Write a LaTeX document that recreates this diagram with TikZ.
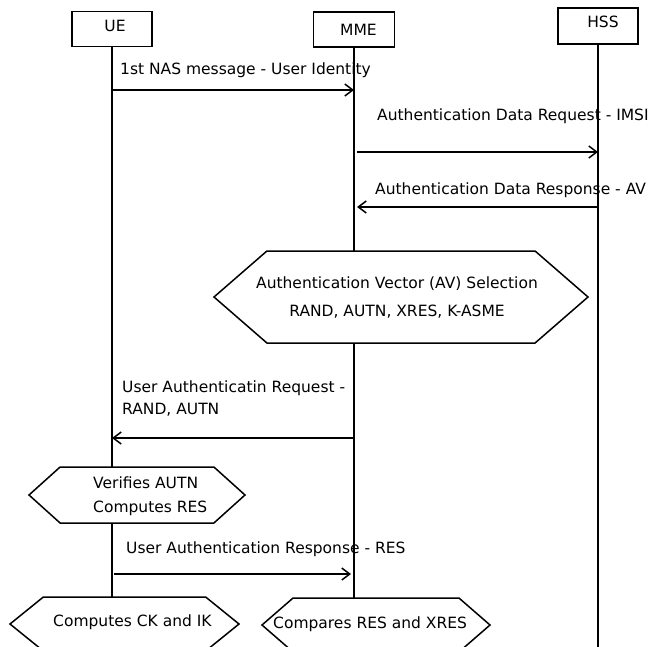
\documentclass[tikz,border=0pt]{standalone}
\usepackage{fontspec}
\setmainfont{DejaVu Sans}
\usetikzlibrary{shapes.symbols,arrows.meta}
\tikzset{
  lw/.style={line width=1.5pt},
  actor/.style={draw, lw, minimum width=80pt, minimum height=35pt, inner sep=0pt,
    font=\fontsize{15.5}{18}\selectfont},
  hexa/.style={draw, lw, shape=signal, signal to=east and west, inner sep=0pt, outer sep=0pt},
  txt/.style={inner sep=0pt, align=left, font=\fontsize{15.5}{22}\selectfont},
  msg/.style={lw, -{Straight Barb[length=8pt,width=12pt]}},
  life/.style={lw},
}
\begin{document}
\begin{tikzpicture}[x=1pt,y=-1pt]
\clip (0,0) rectangle (658,647);
% actors
\node[actor] (ue)  at (112,29) {\hspace*{6pt}\raisebox{3pt}[\height][\depth]{UE}};
\node[actor, minimum width=81pt] (mme) at (354,29.5) {\hspace*{9pt}MME};
\node[actor, minimum height=36pt] (hss) at (598,26) {\hspace*{10pt}\raisebox{4pt}[\height][\depth]{HSS}};
% hexagons
\node[hexa, minimum width=374pt, minimum height=92pt, signal pointer angle=82] (av) at (401,297) {};
\node[hexa, minimum width=216pt, minimum height=56pt, signal pointer angle=84] (verify) at (137,495) {};
\node[hexa, minimum width=229pt, minimum height=54pt, signal pointer angle=78] (ck) at (124.5,624) {};
\node[hexa, minimum width=228pt, minimum height=54pt, signal pointer angle=82] (cmp) at (376,625) {};
% hexagon texts
\node[txt, align=center, font=\fontsize{15.5}{28}\selectfont] (avt) at (397,298)
  {Authentication Vector (AV) Selection\\RAND, AUTN, XRES, K-ASME};
\node[txt, anchor=west, font=\fontsize{15.5}{24}\selectfont] (verifyt) at (93,496) {Verifies AUTN\\Computes RES};
\node[txt, anchor=west] (ckt) at (53,622) {Computes CK and IK};
\node[txt, anchor=west] (cmpt) at (273,624) {Compares RES and XRES};
% lifelines
\coordinate (bottom) at (0,647);
\draw[life] (ue.south) -- (ue.south |- verify.north);
\draw[life] (ue |- verify.south) -- (ue |- ck.north);
\draw[life] (mme.south) -- (mme |- av.north);
\draw[life] (mme |- av.south) -- (mme |- cmp.north);
\draw[life] (hss.south) -- (hss |- bottom);
% message levels
\coordinate (y1) at (0,90);
\coordinate (y2) at (0,152);
\coordinate (y3) at (0,207);
\coordinate (y4) at (0,438);
\coordinate (y5) at (0,574);
% messages
\draw[msg] (ue |- y1) -- (mme |- y1);
\draw[msg, shorten <=3pt] (mme |- y2) -- (hss |- y2);
\draw[msg, shorten >=3pt] (hss |- y3) -- (mme |- y3);
\draw[msg] (mme |- y4) -- (ue |- y4);
\draw[msg, shorten <=2pt, shorten >=3pt] (ue |- y5) -- (mme |- y5);
% message labels
\node[txt, anchor=west] (l1) at (120,70) {1st NAS message - User Identity};
\node[txt, anchor=west] (l2) at (377,116) {Authentication Data Request - IMSI};
\node[txt, anchor=west] (l3) at (375,190) {Authentication Data Response - AV};
\node[txt, anchor=west] (l4) at (122,399) {User Authenticatin Request -\\RAND, AUTN};
\node[txt, anchor=west] (l5) at (126,549) {User Authentication Response - RES};
\end{tikzpicture}
\end{document}
